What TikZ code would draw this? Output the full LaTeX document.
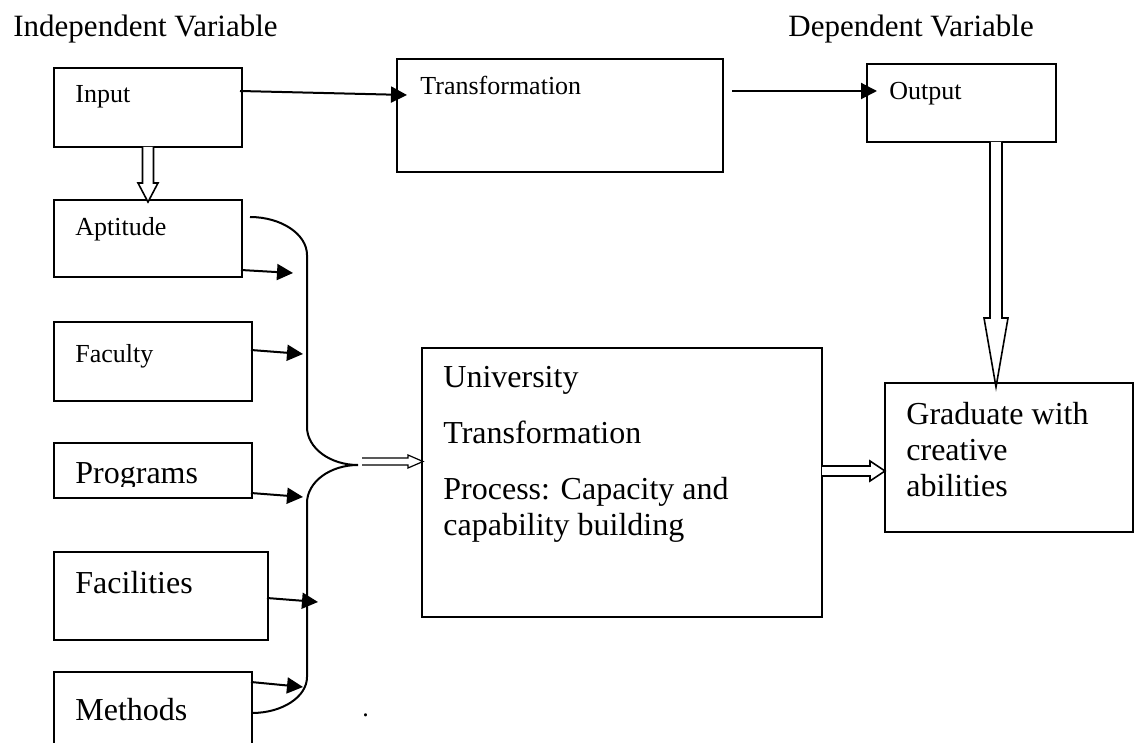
\documentclass[tikz,border=0pt]{standalone}
\usepackage{fontspec}
\setmainfont{Liberation Serif}
\usetikzlibrary{arrows.meta,calc}

\begin{document}
\begin{tikzpicture}[x=0.5pt,y=-0.5pt,
    box/.style={draw,line width=1pt,anchor=north west,inner sep=0pt,outer sep=0pt},
    hdr/.style={anchor=base west,inner sep=0pt,font=\fontsize{15.5}{18}\selectfont},
    lbl/.style={anchor=base west,inner sep=0pt,font=\fontsize{13}{15}\selectfont},
    big/.style={anchor=base west,inner sep=0pt,align=left,font=\fontsize{16}{18}\selectfont},
    arr/.style={line width=1pt,-{Triangle[length=8pt,width=8pt]}},
    hollow/.style={draw,fill=white,line width=0.8pt,line join=miter}]
  \useasboundingbox (0,0) rectangle (1134,743);

  % headings
  \node[hdr] (indep) at (13,37) {Independent Variable};
  \node[hdr] (dep) at (788,37) {Dependent Variable};

  % boxes
  \node[box,minimum width=94pt,minimum height=39.5pt] (input) at (54,68) {};
  \node[box,minimum width=163pt,minimum height=56.5pt] (trans) at (397,59) {};
  \node[box,minimum width=94.5pt,minimum height=39pt] (output) at (867,64) {};
  \node[box,minimum width=94pt,minimum height=38.5pt] (aptitude) at (54,200) {};
  \node[box,minimum width=99pt,minimum height=39.5pt] (faculty) at (54,322) {};
  \node[box,minimum width=99pt,minimum height=27.5pt] (programs) at (54,443) {};
  \node[box,minimum width=107pt,minimum height=44pt] (facilities) at (54,552) {};
  \node[box,minimum width=99pt,minimum height=50pt] (methods) at (54,672) {};
  \node[box,minimum width=200pt,minimum height=134.5pt] (univ) at (422,348) {};
  \node[box,minimum width=124pt,minimum height=74.5pt] (grad) at (885,383) {};

  % texts (multi-line ones sit on their last line)
  \node[lbl] (input-t) at (75,103) {Input};
  \node[lbl] (trans-t) at (420,95) {Transformation};
  \node[lbl] (output-t) at (889,100) {Output};
  \node[lbl] (aptitude-t) at (75,235) {Aptitude};
  \node[lbl] (faculty-t) at (75,362) {Faculty};
  \begin{scope}
    \clip (54,443) rectangle (252,486);
    \node[big] (programs-t) at (75,483) {Programs};
  \end{scope}
  \node[big] (facilities-t) at (75,593) {Facilities};
  \node[big] (methods-t) at (75,720) {Methods};
  \node[big] (univ-t) at (443,535) {University\\[10pt]Transformation\\[10pt]Process: Capacity and\\capability building};
  \node[big] (grad-t) at (906,496) {Graduate with\\creative\\abilities};
  \node[lbl] (dot) at (362,716) {.};

  % top row
  \draw[arr] ($(input.east)+(-2,-16.5)$) -- ($(trans.west)+(10,-20.5)$);
  \draw[arr] ($(trans.east)+(9,-24.5)$) -- ($(output.west)+(10,-12)$);

  % inputs into the bracket
  \coordinate (apt-in) at (293,273);
  \coordinate (fac-in) at (303,354);
  \coordinate (prog-in) at (303,497);
  \coordinate (facil-in) at (318,602);
  \coordinate (meth-in) at (303,687);
  \draw[arr] ($(aptitude.east)+(-1,31.5)$) -- (apt-in);
  \draw[arr] ($(faculty.east)+(-1,-11.5)$) -- (fac-in);
  \draw[arr] ($(programs.east)+(-1,22.5)$) -- (prog-in);
  \draw[arr] ($(facilities.east)+(-1,2)$) -- (facil-in);
  \draw[arr] ($(methods.east)+(-1,-40)$) -- (meth-in);

  % bracket
  \coordinate (join) at (358,465);
  \draw[line width=1pt] ($(aptitude.north east)+(8,17)$) .. controls (281,217) and (307,234) .. (307,255)
    -- (307,427) .. controls (307,448) and (330,465) .. (join)
    .. controls (330,465) and (307,482) .. (307,503)
    -- (307,677) .. controls (307,697) and (282,713) .. ($(methods.north east)+(0,41)$);

  % hollow arrows
  \draw[hollow] ($(input.south)+(-5.5,0)$) -- ++(0,36) -- ++(-4.5,0) -- ($(aptitude.north)+(0,2)$)
    -- ($(input.south)+(10,36)$) -- ++(-4.5,0) -- ($(input.south)+(5.5,0)$);
  \draw[hollow] ($(output.south)+(28.5,0)$) -- ++(0,176) -- ++(-6,0) -- ($(grad.north)+(-13,4)$)
    -- ($(output.south)+(46.5,176)$) -- ++(-6,0) -- ($(output.south)+(40.5,0)$);
  \draw[hollow] ($(univ.east)+(0,-16.5)$) -- ++(48,0) -- ++(0,-5) -- ($(grad.west)+(0,13.5)$)
    -- ($(univ.east)+(48,-1.5)$) -- ++(0,-5) -- ($(univ.east)+(0,-6.5)$);
  \draw[hollow,line width=0.6pt] ($(join)+(4,-7)$) -- ++(46,0) -- ++(0,-3) -- ($(univ.west)+(1,-21)$)
    -- ($(join)+(50,3)$) -- ++(0,-3) -- ($(join)+(4,0)$);
\end{tikzpicture}
\end{document}
